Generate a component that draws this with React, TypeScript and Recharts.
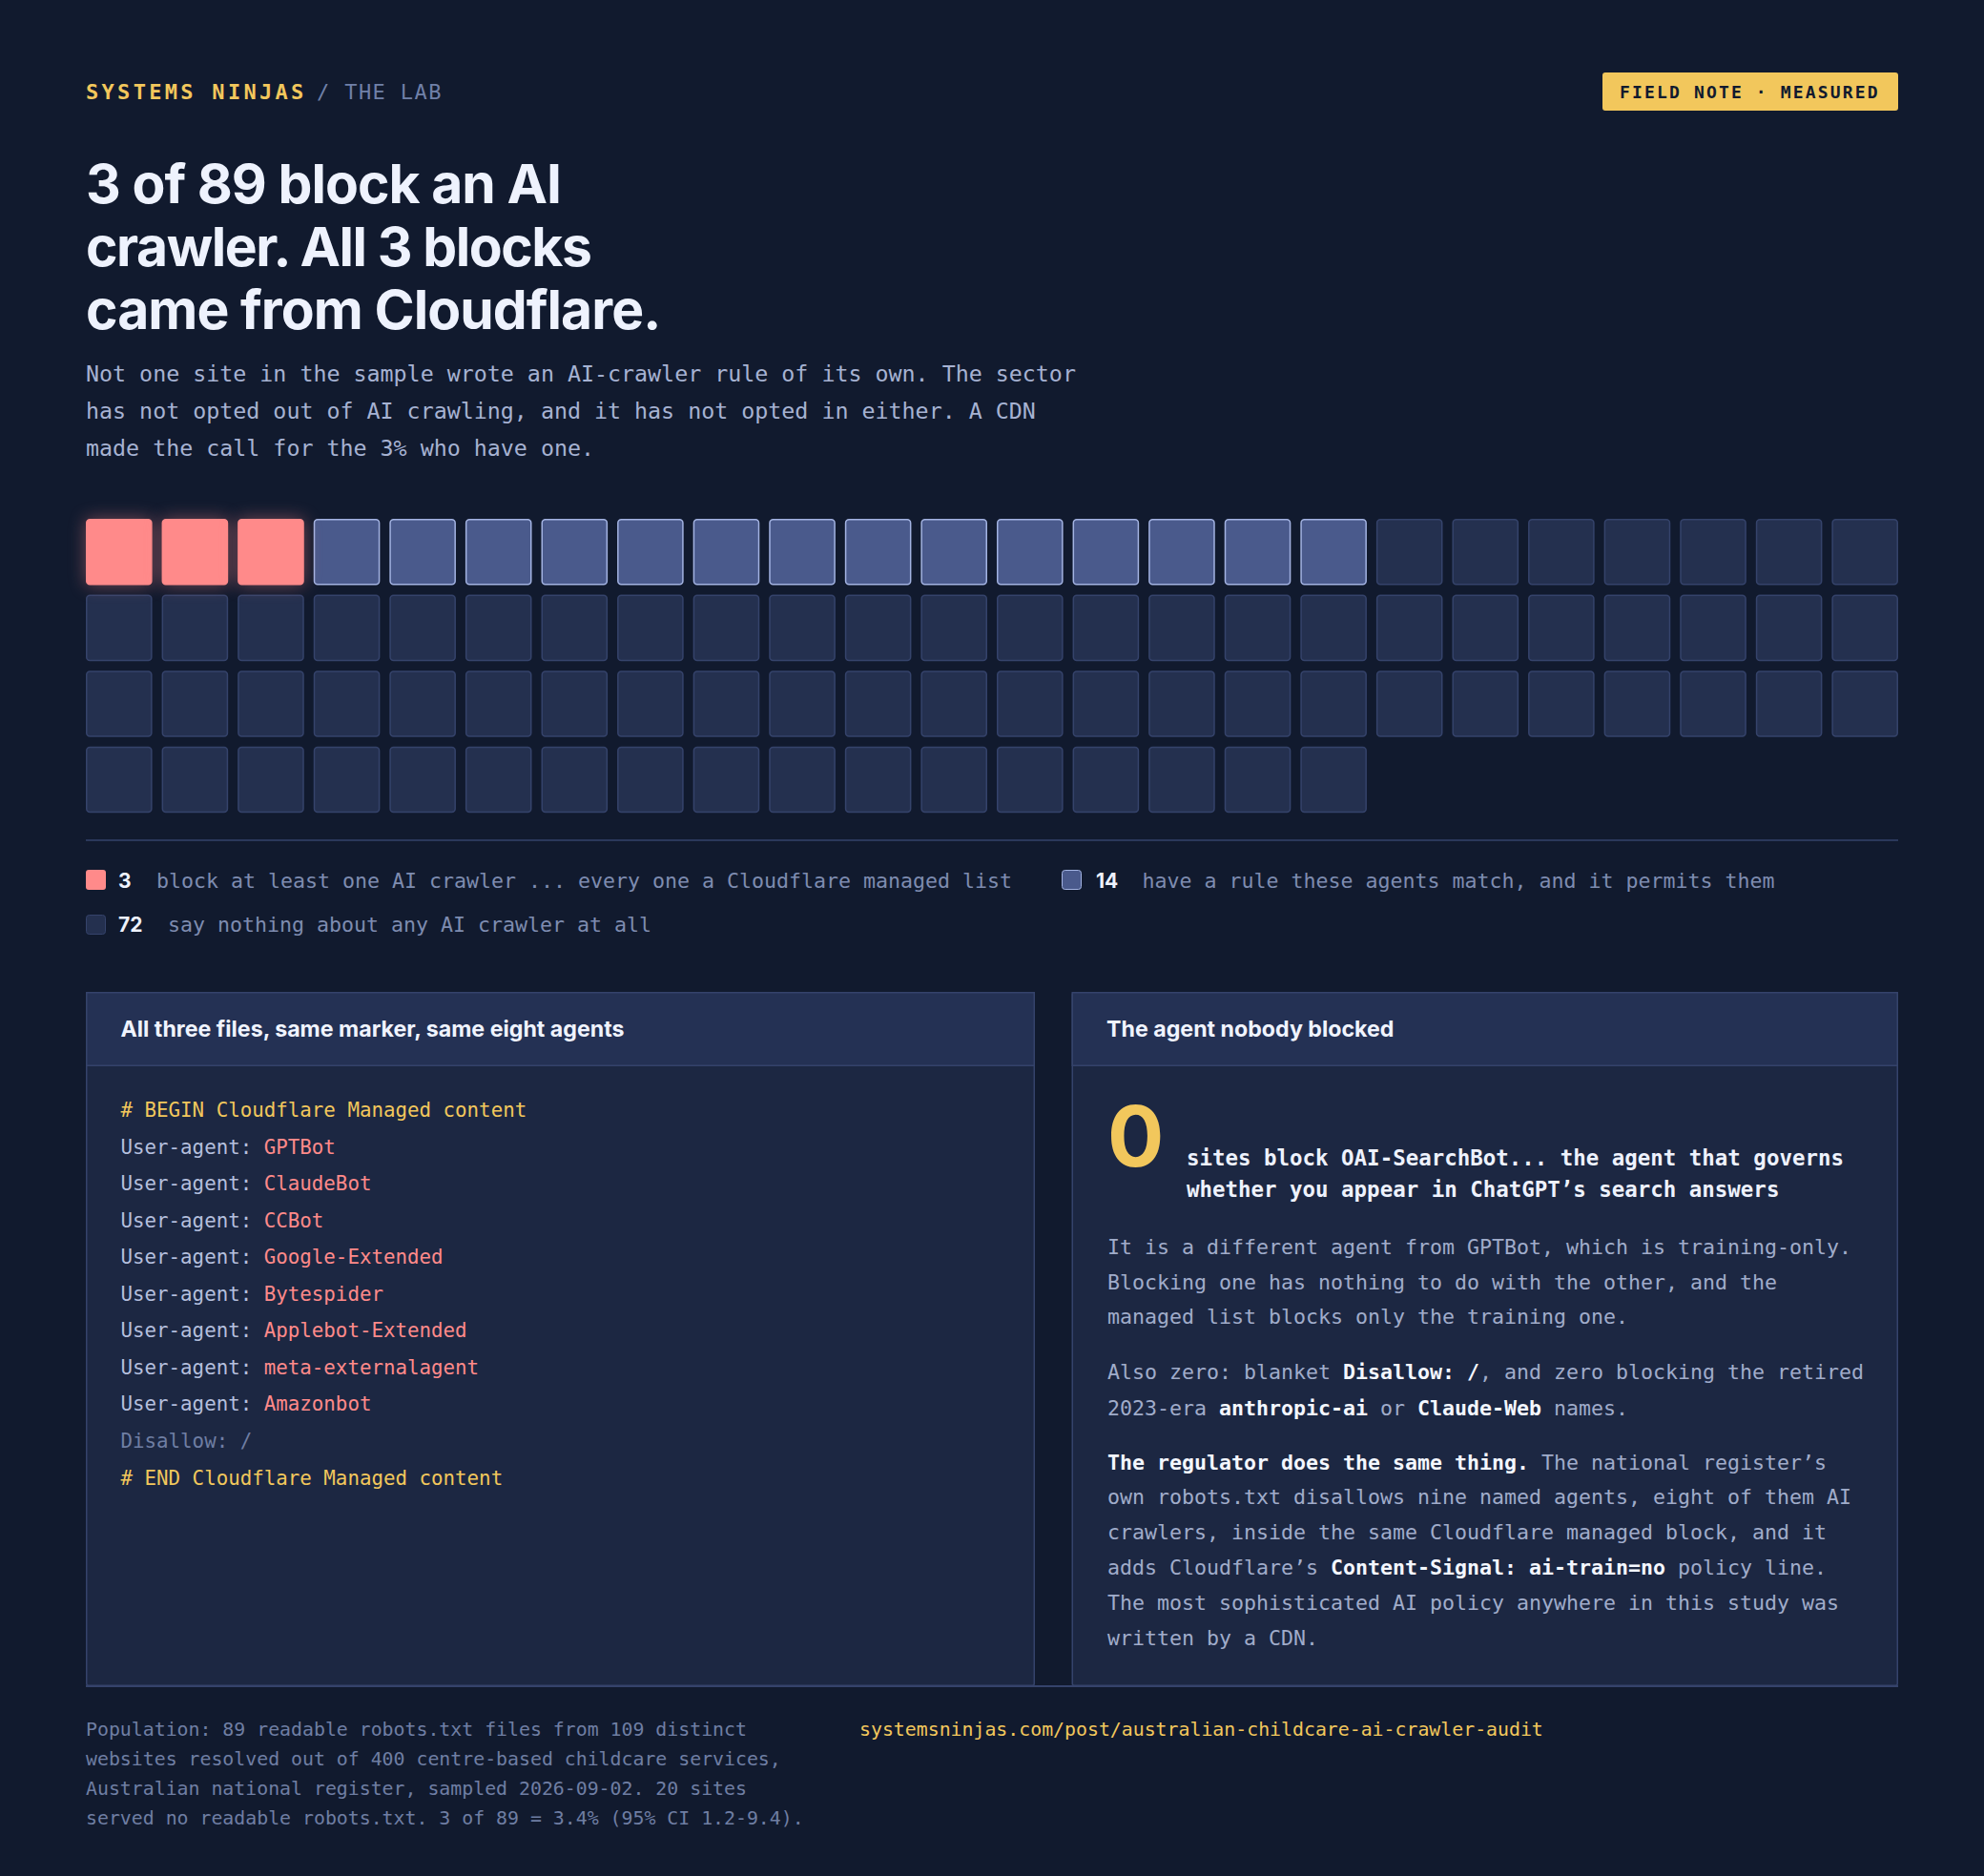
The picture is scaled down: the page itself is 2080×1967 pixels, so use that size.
import { ScatterChart, Scatter, XAxis, YAxis } from "recharts";

const COLUMNS = 24;
const ROWS = 4;
const categories = ["blocks", "permits", "silent"];
const counts = [3, 14, 72];

const BG = "#111a2e";
const PANEL = "#1c2742";
const PANEL_HEAD = "#243154";
const LINE = "#35436b";
const YELLOW = "#f2c75c";
const RED = "#ff8a8a";
const MONO = "'DejaVu Sans Mono', monospace";
const SANS = "Inter, sans-serif";

const titleLines = ["3 of 89 block an AI", "crawler. All 3 blocks", "came from Cloudflare."];
const titleTracking = [-0.95, -1.43, -0.92];
const subtitleLines = [
  "Not one site in the sample wrote an AI-crawler rule of its own. The sector",
  "has not opted out of AI crawling, and it has not opted in either. A CDN",
  "made the call for the 3% who have one.",
];
const codeAgents = [
  "GPTBot",
  "ClaudeBot",
  "CCBot",
  "Google-Extended",
  "Bytespider",
  "Applebot-Extended",
  "meta-externalagent",
  "Amazonbot",
];
const footerLines = [
  "Population: 89 readable robots.txt files from 109 distinct",
  "websites resolved out of 400 centre-based childcare services,",
  "Australian national register, sampled 2026-09-02. 20 sites",
  "served no readable robots.txt. 3 of 89 = 3.4% (95% CI 1.2-9.4).",
];

// [text, bold]
type Seg = [string, boolean];
const bodyLines: { y: number; segs: Seg[] }[] = [
  { y: 1315, segs: [["It is a different agent from GPTBot, which is training-only.", false]] },
  { y: 1352, segs: [["Blocking one has nothing to do with the other, and the", false]] },
  { y: 1388, segs: [["managed list blocks only the training one.", false]] },
  { y: 1445.5, segs: [["Also zero: blanket ", false], ["Disallow: /", true], [", and zero blocking the retired", false]] },
  { y: 1483.5, segs: [["2023-era ", false], ["anthropic-ai", true], [" or ", false], ["Claude-Web", true], [" names.", false]] },
  { y: 1541, segs: [["The regulator does the same thing.", true], [" The national register’s", false]] },
  { y: 1577, segs: [["own robots.txt disallows nine named agents, eight of them AI", false]] },
  { y: 1614, segs: [["crawlers, inside the same Cloudflare managed block, and it", false]] },
  { y: 1651, segs: [["adds Cloudflare’s ", false], ["Content-Signal: ai-train=no", true], [" policy line.", false]] },
  { y: 1688, segs: [["The most sophisticated AI policy anywhere in this study was", false]] },
  { y: 1724.5, segs: [["written by a CDN.", false]] },
];

// one point per site, filled left to right, top to bottom
let next = 0;
const cells = counts.map((count) =>
  Array.from({ length: count }, () => {
    const i = next++;
    return { col: (i % COLUMNS) + 0.5, row: Math.floor(i / COLUMNS) + 0.5 };
  })
);

const STEP = 79.583;
const TILE = 69.6;
const PAD = 30;

function Tile(props: any) {
  const { cx, cy, fill, stroke, glow } = props;
  if (cx == null || cy == null) return null;
  return (
    <rect
      x={cx - TILE / 2 + 0.75}
      y={cy - TILE / 2 + 0.75}
      width={TILE - 1.5}
      height={TILE - 1.5}
      rx={3.5}
      fill={fill}
      stroke={stroke}
      strokeWidth={1.5}
      style={glow ? { filter: "drop-shadow(0 0 9px rgba(255,138,138,0.42))" } : undefined}
    />
  );
}

function Waffle() {
  return (
    <div style={{ position: "absolute", left: 85 - PAD, top: 539 - PAD }}>
      <ScatterChart
        width={STEP * COLUMNS + PAD * 2}
        height={STEP * ROWS + PAD * 2}
        margin={{ top: PAD, right: PAD, bottom: PAD, left: PAD }}
      >
        <XAxis type="number" dataKey="col" domain={[0, COLUMNS]} hide />
        <YAxis type="number" dataKey="row" domain={[0, ROWS]} reversed hide />
        <Scatter
          name={categories[2]}
          data={cells[2]}
          isAnimationActive={false}
          shape={(p: any) => <Tile {...p} fill="#24304f" stroke="#35436b" />}
        />
        <Scatter
          name={categories[1]}
          data={cells[1]}
          isAnimationActive={false}
          shape={(p: any) => <Tile {...p} fill="#4a5a8c" stroke="#a3b3e2" />}
        />
        <Scatter
          name={categories[0]}
          data={cells[0]}
          isAnimationActive={false}
          shape={(p: any) => <Tile {...p} fill={RED} stroke={RED} glow />}
        />
      </ScatterChart>
    </div>
  );
}

function Mono({ x, y, size, fill, weight, children }: any) {
  return (
    <text x={x} y={y} fontFamily={MONO} fontSize={size} fill={fill} fontWeight={weight ?? 400} xmlSpace="preserve">
      {children}
    </text>
  );
}

function Panel({ x, w, title }: { x: number; w: number; title: string }) {
  return (
    <g>
      <rect x={x + 0.75} y={1040.75} width={w - 1.5} height={726.5} rx={2} fill={PANEL} stroke={LINE} strokeWidth={1.5} />
      <rect x={x + 0.75} y={1040.75} width={w - 1.5} height={76.5} fill={PANEL_HEAD} stroke={LINE} strokeWidth={1.5} />
      <text x={x + 36.5} y={1087} fontFamily={SANS} fontSize={23.2} fontWeight={700} fill="#f0f4ff">
        {title}
      </text>
    </g>
  );
}

function Page() {
  return (
    <svg width={2080} height={1967} style={{ position: "absolute", left: 0, top: 0 }}>
      <rect width={2080} height={1967} fill={BG} />

      {/* header */}
      <text x={90} y={103.5} fontFamily={MONO} fontSize={22} fontWeight={700} fill={YELLOW} letterSpacing={3.3}>
        SYSTEMS NINJAS
      </text>
      <text x={332} y={103.5} fontFamily={MONO} fontSize={22} fill="#7080a8" letterSpacing={1.4}>
        / THE LAB
      </text>
      <rect x={1680} y={76} width={310} height={40} rx={3} fill={YELLOW} />
      <text x={1698} y={102.5} fontFamily={MONO} fontSize={18} fontWeight={700} fill="#111a2e" letterSpacing={2.15}>
        FIELD NOTE · MEASURED
      </text>

      {titleLines.map((t, i) => (
        <text key={t} x={90} y={213 + i * 66} fontFamily={SANS} fontSize={57} fontWeight={700} fill="#eef2fd" letterSpacing={titleTracking[i]}>
          {t}
        </text>
      ))}
      {subtitleLines.map((t, i) => (
        <Mono key={t} x={90} y={400.3 + i * 39} size={23.3} fill="#a6b2d2">
          {t}
        </Mono>
      ))}

      {/* legend */}
      <line x1={90} x2={1990} y1={881} y2={881} stroke={LINE} strokeWidth={1.5} />
      <rect x={90} y={912} width={21} height={21} rx={3} fill={RED} />
      <text x={124} y={930.5} fontFamily={SANS} fontSize={21} fontWeight={700} fill="#eef2fd">{counts[0]}</text>
      <Mono x={164} y={930.5} size={21.6} fill="#7e8cb0">block at least one AI crawler ... every one a Cloudflare managed list</Mono>
      <rect x={1113.5} y={912.5} width={20} height={20} rx={3} fill="#4a5a8c" stroke="#a3b3e2" />
      <text x={1149} y={930.5} fontFamily={SANS} fontSize={21} fontWeight={700} fill="#eef2fd">{counts[1]}</text>
      <Mono x={1197.5} y={930.5} size={21.6} fill="#7e8cb0">have a rule these agents match, and it permits them</Mono>
      <rect x={90.5} y={959.5} width={20} height={20} rx={3} fill="#24304f" stroke="#35436b" />
      <text x={124} y={977} fontFamily={SANS} fontSize={21} fontWeight={700} fill="#eef2fd">{counts[2]}</text>
      <Mono x={176} y={977} size={21.6} fill="#7e8cb0">say nothing about any AI crawler at all</Mono>

      {/* left panel */}
      <Panel x={90} w={995} title="All three files, same marker, same eight agents" />
      <Mono x={126.5} y={1171} size={20.8} fill={YELLOW}># BEGIN Cloudflare Managed content</Mono>
      {codeAgents.map((a, i) => (
        <text key={a} x={126.5} y={1209.5 + i * 38.5} fontFamily={MONO} fontSize={20.8} xmlSpace="preserve">
          <tspan fill="#b4bfdd">User-agent: </tspan>
          <tspan fill={RED}>{a}</tspan>
        </text>
      ))}
      <Mono x={126.5} y={1517.5} size={20.8} fill="#6f7ea3">Disallow: /</Mono>
      <Mono x={126.5} y={1557} size={20.8} fill={YELLOW}># END Cloudflare Managed content</Mono>

      {/* right panel */}
      <Panel x={1123.5} w={866.5} title="The agent nobody blocked" />
      <text x={1161} y={1222.5} fontFamily={SANS} fontSize={88} fontWeight={700} fill={YELLOW}>0</text>
      <Mono x={1244} y={1221.7} size={22.45} fill="#eef2fd" weight={600}>sites block OAI-SearchBot... the agent that governs</Mono>
      <Mono x={1244} y={1255} size={22.45} fill="#eef2fd" weight={600}>whether you appear in ChatGPT’s search answers</Mono>
      {bodyLines.map((l) => (
        <text key={l.y} x={1161} y={l.y} fontFamily={MONO} fontSize={21.6} xmlSpace="preserve">
          {l.segs.map(([t, b], i) => (
            <tspan key={i} fill={b ? "#f4f7ff" : "#a0acca"} fontWeight={b ? 700 : 400}>
              {t}
            </tspan>
          ))}
        </text>
      ))}

      {/* footer */}
      <line x1={90} x2={1990} y1={1768} y2={1768} stroke={LINE} strokeWidth={2} />
      {footerLines.map((t, i) => (
        <Mono key={t} x={90} y={1820 + i * 31.1} size={19.85} fill="#6f7ea3">
          {t}
        </Mono>
      ))}
      <Mono x={901} y={1820} size={19.85} fill={YELLOW}>systemsninjas.com/post/australian-childcare-ai-crawler-audit</Mono>
    </svg>
  );
}

export default function App() {
  return (
    <div style={{ position: "absolute", left: 0, top: 0, width: 2080, height: 1967, overflow: "hidden", background: BG }}>
      <Page />
      <Waffle />
    </div>
  );
}
